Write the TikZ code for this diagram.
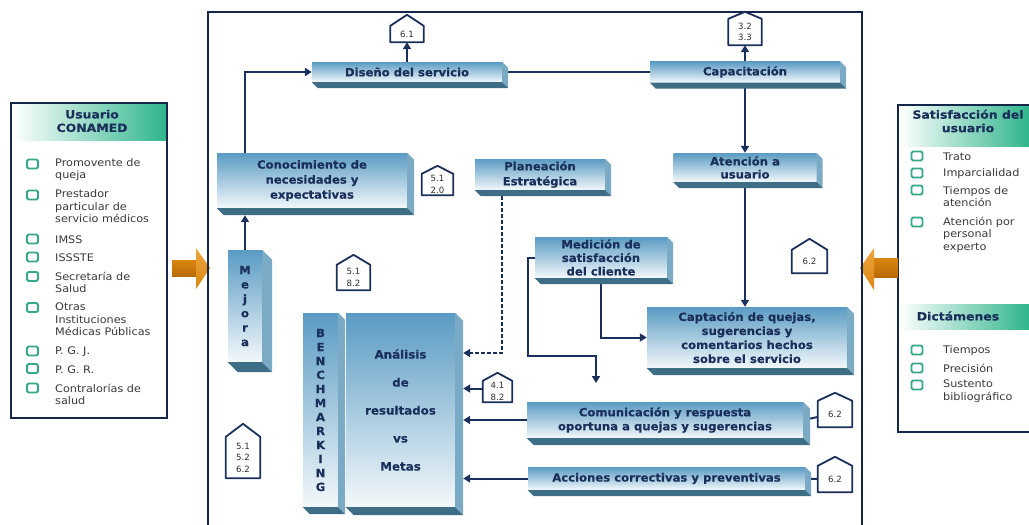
\documentclass[tikz,border=0pt]{standalone}
\usepackage{fontspec}
\newfontfamily\vsans[FakeStretch=1.08]{DejaVu Sans}
\newfontfamily\vtag{DejaVu Sans}
\newfontfamily\vheavy[FakeStretch=1.03,FakeBold=0.35]{DejaVu Sans Bold}
\newfontfamily\vhead[FakeStretch=1.1,FakeBold=0.3]{DejaVu Sans Bold}
\usetikzlibrary{arrows.meta,calc}

\definecolor{navy}{HTML}{1A2F5A}
\definecolor{framecol}{HTML}{14264A}
\definecolor{facetop}{HTML}{5A9BC3}
\definecolor{facebot}{HTML}{F3F8FB}
\definecolor{faceright}{HTML}{7AAAC4}
\definecolor{facebase}{HTML}{3D6E85}
\definecolor{hdrteal}{HTML}{2FB58C}
\definecolor{chkteal}{HTML}{36A88A}
\definecolor{itemgray}{HTML}{3A3A3A}
\definecolor{taggray}{HTML}{2E2E2E}
\definecolor{orlight}{HTML}{EDA640}
\definecolor{ormid}{HTML}{DA860F}
\definecolor{ordark}{HTML}{B86A06}

\pgfdeclarelayer{base}
\pgfdeclarelayer{links}
\pgfsetlayers{base,links,main}

% extruded box: [style] name, cx, cy, width, height, depth, text
\newcommand\tdbox[8][]{%
  \node[tdface,minimum width=#5pt,minimum height=#6pt,#1] (#2) at (#3,#4) {#8};
  \fill[faceright] (#2.north east) -- ++(#7,#7) -- ($(#2.south east)+(#7,#7)$) -- (#2.south east) -- cycle;
  \fill[facebase] (#2.south west) -- (#2.south east) -- ($(#2.south east)+(#7,#7)$) -- ($(#2.south west)+(#7,#7)$) -- cycle;
}
% house-shaped clause tag: name, cx, cy, width, height, roof, text
\newcommand\housetag[7]{%
  \node[tagbox,minimum width=#4pt,minimum height=#5pt] (#1) at (#2,#3) {#7};
  \draw[tagline] (#1.south west) -- (#1.north west) -- ($(#1.north)+(0,-#6)$) -- (#1.north east) -- (#1.south east) -- cycle;
}

\begin{document}
\begin{tikzpicture}[x=1pt,y=-1pt,
  tdface/.style={inner sep=0pt,top color=facetop,bottom color=facebot,text=navy,align=center,
    font=\vheavy\fontsize{11.3}{14}\selectfont},
  conn/.style={draw=navy,line width=2pt},
  arrowed/.style={-{Triangle[length=7pt,width=8pt]}},
  tagbox/.style={fill=white,inner sep=0pt,align=center,text=taggray,
    font=\vtag\fontsize{8.6}{11.5}\selectfont},
  tagline/.style={draw=navy,line width=1.8pt,line join=round},
  chk/.style={draw=chkteal,line width=1.9pt,rounded corners=1.5pt,minimum width=11pt,
    minimum height=9pt,inner sep=0pt,fill=white},
  item/.style={anchor=west,inner sep=0pt,align=left,text=itemgray,
    font=\vsans\fontsize{10.4}{12.5}\selectfont},
  hdr/.style={inner sep=0pt,align=center,text=navy,
    font=\vhead\fontsize{11.3}{13.5}\selectfont},
  panel/.style={draw=framecol,line width=2pt},
  mainframe/.style={draw=framecol,line width=2.5pt},
]
\useasboundingbox (0,0) rectangle (1029,525);
\begin{pgfonlayer}{base}
  \fill[white] (0,0) rectangle (1029,525);
\end{pgfonlayer}

% ---------- left panel: users ----------
\fill[white] (11,103) rectangle (167,418);
\shade[left color=white,right color=hdrteal] (12,104) rectangle (166,140);
\draw[panel] (11,103) rectangle (167,418);
\node[hdr] (uhdr) at (92,121) {Usuario\\CONAMED};

\node[chk] (lb1) at (32.5,164) {};   \node[item] (lt1) at (55,169.5) {Promovente de\\queja};
\node[chk] (lb2) at (32.5,195) {};   \node[item] (lt2) at (55,206.5) {Prestador\\particular de\\servicio médicos};
\node[chk] (lb3) at (32.5,239) {};   \node[item] (lt3) at (55,239.5) {IMSS};
\node[chk] (lb4) at (32.5,257) {};   \node[item] (lt4) at (55,257.5) {ISSSTE};
\node[chk] (lb5) at (32.5,276.5) {}; \node[item] (lt5) at (55,282.5) {Secretaría de\\Salud};
\node[chk] (lb6) at (32.5,307.5) {}; \node[item] (lt6) at (55,319.5) {Otras\\Instituciones\\Médicas Públicas};
\node[chk] (lb7) at (32.5,351) {};   \node[item] (lt7) at (55,351.5) {P. G. J.};
\node[chk] (lb8) at (32.5,368.5) {}; \node[item] (lt8) at (55,369.5) {P. G. R.};
\node[chk] (lb9) at (32.5,388) {};   \node[item] (lt9) at (55,394.5) {Contralorías de\\salud};

% ---------- right panel: satisfaction ----------
\fill[white] (898,105) rectangle (1029,432);
\shade[left color=white,right color=hdrteal] (899,106) rectangle (1029,146);
\shade[left color=white,right color=hdrteal] (899,304) rectangle (1029,329);
\draw[panel] (1029,105) -- (898,105) -- (898,432) -- (1029,432);
\node[hdr] (shdr) at (968,121) {Satisfacción del\\usuario};
\node[chk] (rb1) at (917,156) {}; \node[item] (rt1) at (943,156.5) {Trato};
\node[chk] (rb2) at (917,173) {}; \node[item] (rt2) at (943,173.5) {Imparcialidad};
\node[chk] (rb3) at (917,190) {}; \node[item] (rt3) at (943,196.5) {Tiempos de\\atención};
\node[chk] (rb4) at (917,222) {}; \node[item] (rt4) at (943,234.5) {Atención por\\personal\\experto};
\node[hdr] (dhdr) at (958,316) {Dictámenes};
\node[chk] (rb5) at (917,350) {}; \node[item] (rt5) at (943,350.5) {Tiempos};
\node[chk] (rb6) at (917,368) {}; \node[item] (rt6) at (943,368.5) {Precisión};
\node[chk] (rb7) at (917,385) {}; \node[item] (rt7) at (943,391) {Sustento\\bibliográfico};

% ---------- orange inflow / outflow arrows ----------
\shade[top color=ormid,bottom color=ordark] (172,260) rectangle (199,276);
\shade[top color=orlight,bottom color=ormid] (196,248) -- (210,268) -- (196,289) -- cycle;
\shade[top color=ormid,bottom color=ordark] (872,258) rectangle (898,277);
\shade[top color=orlight,bottom color=ormid] (874,248) -- (860,268) -- (874,290) -- cycle;

% ---------- process frame ----------
\draw[mainframe] (208,525) -- (208,12) -- (862,12) -- (862,525);

% ---------- process boxes ----------
\tdbox{diseno}{407}{72}{190}{20}{6}{Diseño del servicio}
\tdbox{capac}{745}{72}{190}{21}{6}{Capacitación}
\tdbox[font=\vheavy\fontsize{11.3}{15}\selectfont]{conoc}{312}{180.5}{190}{55}{7}{Conocimiento de\\necesidades y\\expectativas}
\tdbox[font=\vheavy\fontsize{11.3}{15}\selectfont]{planea}{540}{174.5}{130}{31}{6}{Planeación\\Estratégica}
\tdbox[font=\vheavy\fontsize{11.3}{13}\selectfont]{atenc}{745}{167.5}{143}{29}{6}{Atención a\\usuario}
\tdbox[font=\vheavy\fontsize{11.3}{14.4}\selectfont]{mejora}{245}{306}{34}{112}{10}{M\\e\\j\\o\\r\\a}
\tdbox{bench}{320.5}{410}{35}{194}{7}{B\\E\\N\\C\\H\\M\\A\\R\\K\\I\\N\\G}
\tdbox[font=\vheavy\fontsize{11.5}{28}\selectfont]{analisis}{400.5}{410}{109}{194}{8}{Análisis\\de\\resultados\\vs\\Metas}
\tdbox[font=\vheavy\fontsize{11.3}{13.5}\selectfont]{medic}{601}{257.5}{132}{41}{6}{Medición de\\satisfacción\\del cliente}
\tdbox{captac}{747}{337.5}{200}{61}{7}{Captación de quejas,\\sugerencias y\\comentarios hechos\\sobre el servicio}
\tdbox{comun}{665}{420}{276}{36}{7}{Comunicación y respuesta\\oportuna a quejas y sugerencias}
\tdbox{acc}{666.5}{478.5}{277}{23}{6}{Acciones correctivas y preventivas}

% ---------- clause tags ----------
\housetag{t61}{407}{34}{33}{16}{11}{6.1}
\housetag{t32}{745}{32}{33}{26}{7}{3.2\\3.3}
\housetag{t5120}{437.5}{184.5}{31}{21}{8}{5.1\\2.0}
\housetag{t5182}{353.5}{277.5}{33}{25}{10}{5.1\\8.2}
\housetag{t515262}{243}{457.5}{34}{41}{13}{5.1\\5.2\\6.2}
\housetag{t41}{497.5}{391.5}{29}{21}{8}{4.1\\8.2}
\housetag{t62a}{809.5}{261.5}{35}{23}{11}{6.2}
\housetag{t62b}{835}{414}{34}{26}{8}{6.2}
\housetag{t62c}{835}{479}{34}{26}{9}{6.2}

% ---------- connectors ----------
\coordinate (anR) at ($(analisis.east)+(8,0)$);
\coordinate (dturn) at (502,353);
\coordinate (mturn) at (528,356);
\coordinate (mend) at (596,383);
\begin{pgfonlayer}{links}
  \draw[conn,arrowed] (mejora.north) -- ($(mejora.north |- conoc.south)+(0,7)$);
  \draw[conn,arrowed] (mejora.north |- conoc.north) |- (diseno.west);
  \draw[conn] (diseno.east) -- (capac.west);
  \draw[conn,arrowed] (diseno.north) -- (t61.south);
  \draw[conn,arrowed] (capac.north) -- (t32.south);
  \draw[conn,arrowed] (capac.south) -- (atenc.north);
  \draw[conn,arrowed] (atenc.south) -- (atenc.south |- captac.north);
  \draw[conn,arrowed,dash pattern=on 4pt off 2pt] (planea.south -| dturn) -- (dturn) -- (dturn -| anR);
  \draw[conn,arrowed] ($(t41.west)+(0,-3)$) -- ($(t41.west -| anR)+(0,-3)$);
  \draw[conn,arrowed] (comun.west) -- (comun.west -| anR);
  \draw[conn,arrowed] (acc.west) -- (acc.west -| anR);
  \draw[conn,arrowed] (medic.west) -| (mturn) -| (mend);
  \draw[conn,arrowed] (medic.south) |- (captac.west);
  \draw[conn] (comun.east) -- ($(t62b.west)+(0,3)$);
  \draw[conn] (acc.east) -- (t62c.west);
\end{pgfonlayer}
\end{tikzpicture}
\end{document}
